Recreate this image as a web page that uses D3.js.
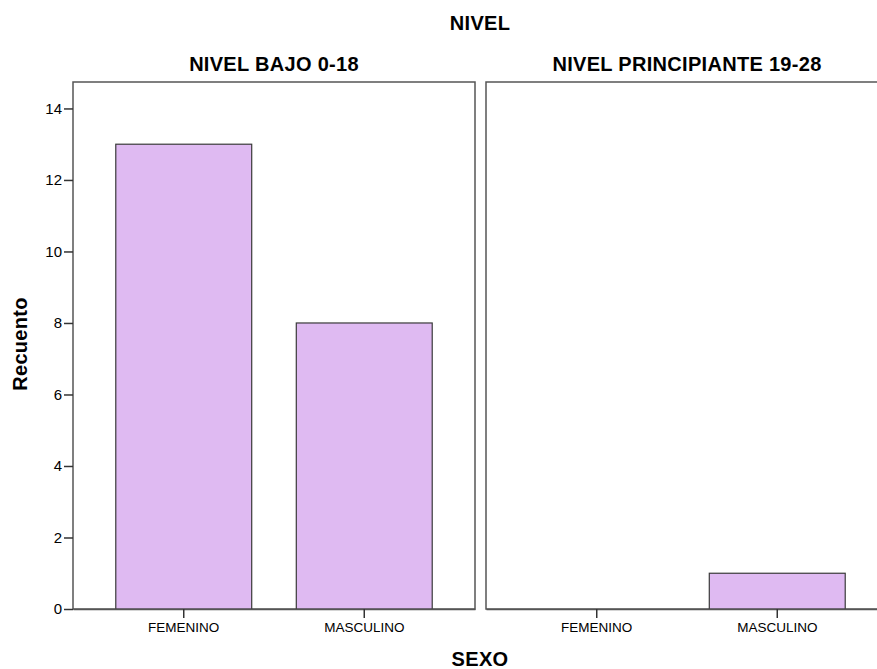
<!DOCTYPE html>
<html><head><meta charset="utf-8">
<script src="https://cdn.jsdelivr.net/npm/d3@7"></script>
<style>body{margin:0;background:#fff}svg{display:block}</style>
</head><body>
<script>
const categories = ["FEMENINO", "MASCULINO"];
const panels = ["NIVEL BAJO 0-18", "NIVEL PRINCIPIANTE 19-28"];
const valuesBajo = [13, 8];
const valuesPrincipiante = [0, 1];
const yTicks = [0, 2, 4, 6, 8, 10, 12, 14];
const seriesByPanel = [valuesBajo, valuesPrincipiante];

const W = 877, H = 669;
const svg = d3.select("body").append("svg").attr("width", W).attr("height", H);
const font = "'Liberation Sans', Arial, sans-serif";

const plotTop = 82, plotBottom = 609;
const panelX = [73, 486], panelW = 402;
const y = d3.scaleLinear().domain([0, 14.74]).range([plotBottom, plotTop]);

function boldText(sel) {
  return sel.attr("font-family", font).attr("font-weight", "bold").attr("font-size", 20)
    .attr("letter-spacing", 0.3).attr("text-anchor", "middle");
}
boldText(svg.append("text").attr("x", 480).attr("y", 30)).text("NIVEL");
boldText(svg.append("text").attr("x", 480).attr("y", 666)).text("SEXO");
boldText(svg.append("text").attr("transform", "translate(27,344) rotate(-90)")).text("Recuento");

panels.forEach((p, i) => {
  const x0 = panelX[i];
  const x = d3.scaleBand().domain(categories).range([x0, x0 + panelW])
    .paddingInner(0.247).paddingOuter(0.237);
  const g = svg.append("g");
  boldText(g.append("text").attr("x", x0 + panelW / 2).attr("y", 71)).text(p);
  g.append("rect").attr("x", x0).attr("y", plotTop).attr("width", panelW).attr("height", plotBottom - plotTop)
    .attr("fill", "none").attr("stroke", "#555").attr("stroke-width", 1.5);
  const data = categories.map((c, j) => ({c, v: seriesByPanel[i][j]})).filter(d => d.v > 0);
  g.selectAll("rect.bar").data(data).enter().append("rect").attr("class", "bar")
    .attr("x", d => x(d.c)).attr("width", x.bandwidth())
    .attr("y", d => y(d.v)).attr("height", d => y(0) - y(d.v))
    .attr("fill", "#dfbaf2").attr("stroke", "#3a3a3a").attr("stroke-width", 1.2);
  const ax = d3.axisBottom(x).tickSize(9).tickSizeOuter(0).tickPadding(4);
  const axg = g.append("g").attr("transform", `translate(0,${plotBottom})`).call(ax);
  axg.select(".domain").attr("stroke", "#555").attr("stroke-width", 1.5);
  axg.selectAll(".tick line").attr("stroke", "#333").attr("stroke-width", 1.5);
  axg.selectAll(".tick text").attr("font-family", font).attr("font-size", 13.5).attr("fill", "#000");
  if (i === 0) {
    const ay = d3.axisLeft(y).tickValues(yTicks).tickSize(9).tickSizeOuter(0).tickPadding(2);
    const ayg = g.append("g").attr("transform", `translate(${x0},0)`).call(ay);
    ayg.select(".domain").remove();
    ayg.selectAll(".tick line").attr("stroke", "#333").attr("stroke-width", 1.5);
    ayg.selectAll(".tick text").attr("font-family", font).attr("font-size", 15).attr("fill", "#000");
  }
});
</script>
</body></html>
